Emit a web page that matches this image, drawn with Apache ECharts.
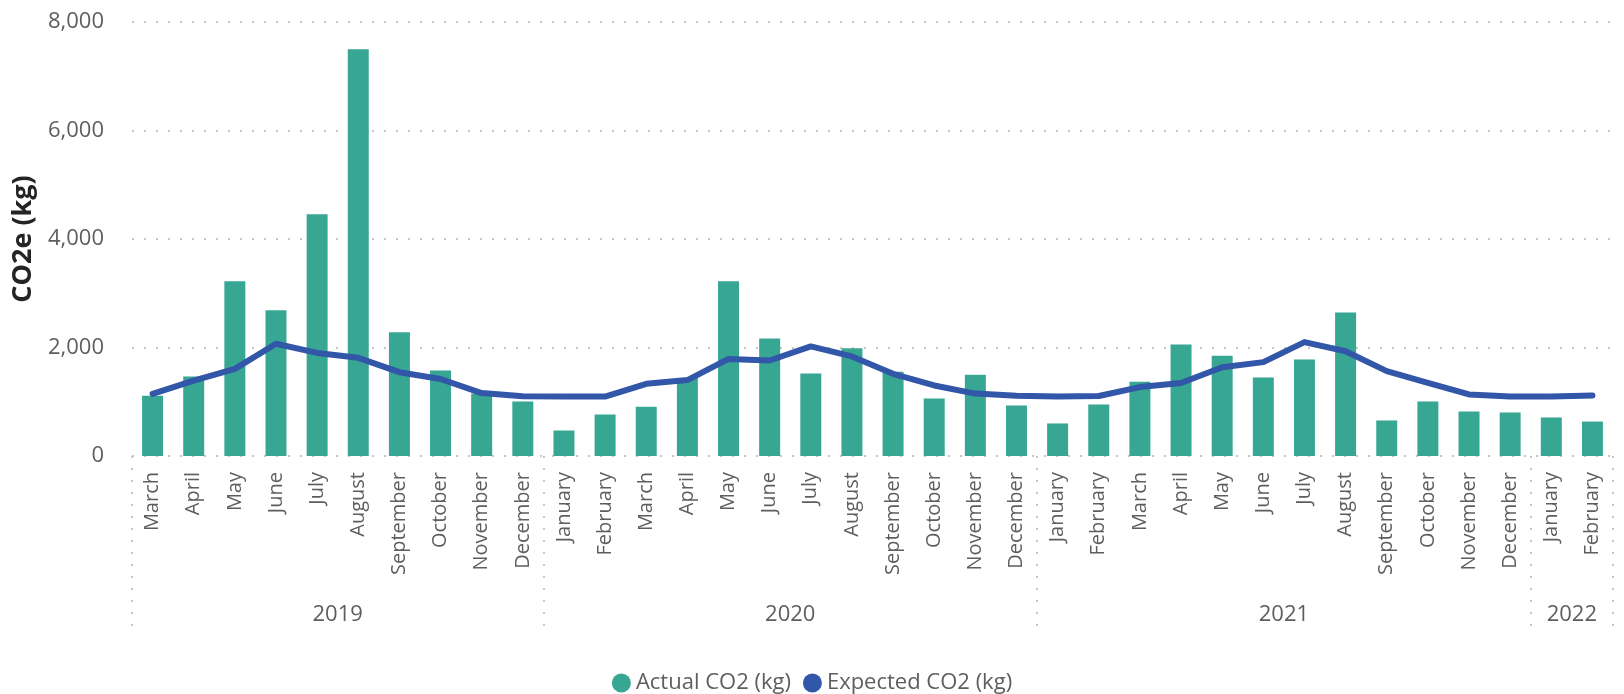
<!DOCTYPE html>
<html>
<head>
<meta charset="utf-8">
<script src="https://cdn.jsdelivr.net/npm/echarts@6/dist/echarts.min.js"></script>
<style>
  html, body { margin: 0; padding: 0; background: #fff; }
  #chart { width: 1624px; height: 694px; }
</style>
</head>
<body>
<div id="chart"></div>
<script>
// months shown on the axis, March 2019 .. February 2022
const months = [
  'March', 'April', 'May', 'June', 'July', 'August', 'September', 'October', 'November', 'December',
  'January', 'February', 'March', 'April', 'May', 'June', 'July', 'August', 'September', 'October', 'November', 'December',
  'January', 'February', 'March', 'April', 'May', 'June', 'July', 'August', 'September', 'October', 'November', 'December',
  'January', 'February',
];
const years = ['2019', '2020', '2021', '2022'];
const monthsPerYear = [10, 12, 12, 2];

const actualCO2 = [
  1110, 1465, 3220, 2685, 4455, 7500, 2280, 1575, 1150, 1005,
  470, 765, 910, 1440, 3220, 2165, 1520, 1985, 1555, 1060, 1500, 930,
  600, 950, 1370, 2055, 1850, 1445, 1780, 2645, 655, 1005, 820, 800,
  710, 635,
];
const expectedCO2 = [
  1145, 1390, 1605, 2070, 1900, 1810, 1545, 1420, 1160, 1100,
  1095, 1095, 1330, 1400, 1790, 1760, 2020, 1835, 1515, 1300, 1150, 1110,
  1095, 1105, 1270, 1345, 1635, 1730, 2100, 1930, 1565, 1350, 1135, 1095,
  1095, 1115,
];

const yTicks = { min: 0, max: 8000, interval: 2000 };

// year axis: half-month points so labels can sit at the middle of each year block
const yearPoints = [];
const yearCentres = {};
const yearBounds = new Set([0]);
let pos = 0;
years.forEach((year, i) => {
  yearCentres[pos + monthsPerYear[i]] = year;
  pos += monthsPerYear[i] * 2;
  yearBounds.add(pos);
});
for (let k = 0; k <= pos; k += 1) yearPoints.push(yearCentres[k] || '');

const grey = '#605E5C';
const font = '"Segoe UI", "Open Sans", sans-serif';

const chart = echarts.init(document.getElementById('chart'), null, { renderer: 'canvas' });

const option = {
  animation: false,
  textStyle: { fontFamily: font },
  grid: { left: 132, right: 11, top: 22, bottom: 238 },
  legend: {
    left: 'center',
    top: 667,
    icon: 'circle',
    itemWidth: 19,
    itemHeight: 19,
    itemGap: 12,
    textStyle: { fontSize: 22, color: grey, fontFamily: font },
    data: ['Actual CO2 (kg)', 'Expected CO2 (kg)'],
  },
  xAxis: [
    {
      type: 'category',
      data: months,
      boundaryGap: true,
      axisLine: { show: false },
      axisTick: { show: false },
      axisLabel: {
        rotate: 90,
        interval: 0,
        margin: 16,
        fontSize: 20,
        color: grey,
        fontFamily: font,
      },
    },
    {
      type: 'category',
      data: yearPoints,
      boundaryGap: false,
      position: 'bottom',
      axisLine: { show: false },
      axisTick: {
        show: true,
        interval: (index) => yearBounds.has(index),
        length: 180,
        lineStyle: { color: '#C8C6C4', width: 2, type: [2, 10] },
      },
      axisLabel: {
        interval: 0,
        margin: 148,
        fontSize: 22,
        color: grey,
        fontFamily: font,
      },
      splitLine: { show: false },
    },
  ],
  yAxis: {
    type: 'value',
    min: yTicks.min,
    max: yTicks.max,
    interval: yTicks.interval,
    name: 'CO2e (kg)',
    nameLocation: 'middle',
    nameRotate: 90,
    nameGap: 95,
    nameTextStyle: { fontSize: 27, fontWeight: 'bold', color: '#252423', fontFamily: font },
    axisLine: { show: false },
    axisTick: { show: false },
    axisLabel: {
      margin: 28,
      fontSize: 22,
      color: grey,
      fontFamily: font,
      formatter: (v) => v.toLocaleString('en-US'),
    },
    splitLine: { lineStyle: { color: '#C8C6C4', width: 2, type: [2, 10] } },
  },
  series: [
    {
      name: 'Actual CO2 (kg)',
      type: 'bar',
      xAxisIndex: 0,
      data: actualCO2,
      barWidth: '51%',
      itemStyle: { color: '#37A693' },
    },
    {
      name: 'Expected CO2 (kg)',
      type: 'line',
      xAxisIndex: 0,
      data: expectedCO2,
      symbol: 'none',
      showSymbol: false,
      itemStyle: { color: '#3256A8' },
      lineStyle: { color: '#3256A8', width: 6, cap: 'round', join: 'round' },
    },
  ],
};

chart.setOption(option);
</script>
</body>
</html>
